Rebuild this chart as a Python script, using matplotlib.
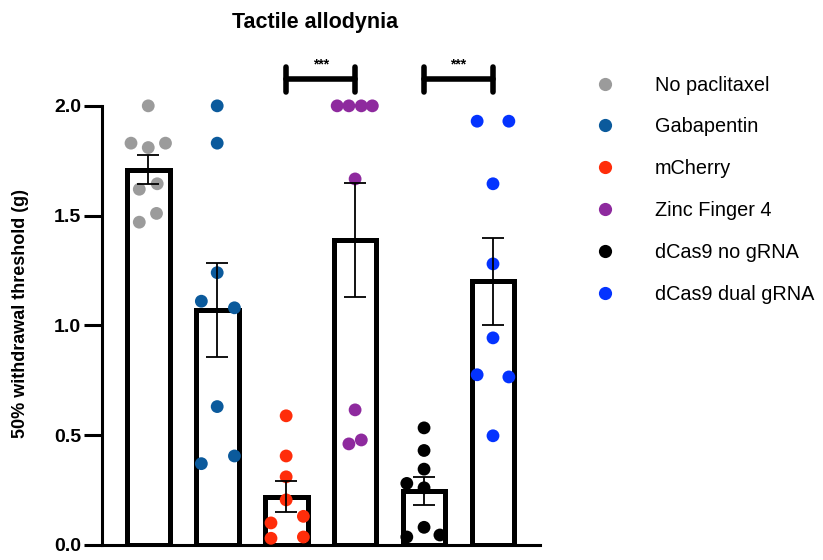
import numpy as np
import matplotlib
matplotlib.use("Agg")
import matplotlib.pyplot as plt
from matplotlib.lines import Line2D

plt.rcParams['font.family'] = ['Liberation Sans', 'DejaVu Sans']

groups = ["No paclitaxel", "Gabapentin", "mCherry", "Zinc Finger 4",
          "dCas9 no gRNA", "dCas9 dual gRNA"]
colors = ["#9b9b9b", "#0b5a9c", "#ff2d0a", "#8e2a9e", "#000000", "#0433ff"]

means = [1.71, 1.07, 0.22, 1.39, 0.245, 1.20]
sems = [0.065, 0.215, 0.07, 0.26, 0.065, 0.20]

no_pac = [2.0, 1.83, 1.81, 1.83, 1.62, 1.645, 1.47, 1.51]
gaba = [2.0, 1.83, 1.24, 1.11, 1.08, 0.63, 0.37, 0.405]
mcherry = [0.588, 0.405, 0.31, 0.205, 0.10, 0.13, 0.03, 0.036]
zf4 = [2.0, 2.0, 2.0, 2.0, 1.667, 0.615, 0.46, 0.478]
no_grna = [0.533, 0.43, 0.345, 0.28, 0.26, 0.08, 0.036, 0.045]
dual_grna = [1.93, 1.93, 1.645, 1.28, 0.943, 0.775, 0.765, 0.497]
points = [no_pac, gaba, mcherry, zf4, no_grna, dual_grna]

# horizontal scatter of the dots inside each bar (layout only)
spread = [
    [0, -0.25, 0, 0.25, -0.13, 0.13, -0.13, 0.12],
    [0, 0, 0, -0.23, 0.25, 0, -0.23, 0.25],
    [0, 0, 0, 0, -0.22, 0.25, -0.22, 0.25],
    [-0.26, -0.09, 0.09, 0.25, 0, 0, -0.09, 0.09],
    [0, 0, 0, -0.25, 0, 0, -0.25, 0.23],
    [-0.23, 0.23, 0, 0, 0, -0.23, 0.23, 0],
]

sig_pairs = [(2, 3), (4, 5)]
sig_text = "***"

fig = plt.figure(figsize=(8.23, 5.6), dpi=100)
ax = fig.add_axes([0.124, 0.027, 0.532, 0.784])

x = np.arange(len(groups))
ax.bar(x, means, width=0.62, color="white", edgecolor="black", linewidth=3.6, zorder=1)
for i, vals in enumerate(points):
    ax.scatter(x[i] + np.array(spread[i]), vals, s=85, color=colors[i],
               edgecolors="none", zorder=3, clip_on=False)
ax.errorbar(x, means, yerr=sems, fmt="none", ecolor="black", elinewidth=1.3,
            capsize=8, capthick=1.3, zorder=4)

# significance brackets
for a, b in sig_pairs:
    y = 2.12
    ax.plot([a, b], [y, y], color="black", lw=4, clip_on=False, solid_capstyle="round")
    for xx in (a, b):
        ax.plot([xx, xx], [y - 0.055, y + 0.055], color="black", lw=4,
                clip_on=False, solid_capstyle="round")
    ax.text((a + b) / 2, y + 0.035, sig_text, ha="center", va="bottom",
            fontsize=10, fontweight="bold")

ax.set_xlim(-0.67, 5.68)
ax.set_ylim(0, 2.0)
ax.set_yticks([0.0, 0.5, 1.0, 1.5, 2.0])
ax.set_yticklabels(["0.0", "0.5", "1.0", "1.5", "2.0"], fontsize=14, fontweight="bold")
ax.set_xticks([])
ax.spines["top"].set_visible(False)
ax.spines["right"].set_visible(False)
ax.spines["left"].set_linewidth(2.2)
ax.spines["bottom"].set_linewidth(2.2)
ax.tick_params(axis="y", length=13, width=2.2, pad=2)
ax.set_ylabel("50% withdrawal threshold (g)", fontsize=13, fontweight="bold")
ax.yaxis.set_label_coords(-0.167, 0.526)
ax.set_title("Tactile allodynia", fontsize=15.5, fontweight="bold", pad=56, x=0.487)

handles = [Line2D([], [], marker="o", linestyle="none", markersize=9.5,
                  markerfacecolor=c, markeredgecolor="none") for c in colors]
fig.legend(handles, groups, loc="upper left", bbox_to_anchor=(0.723, 0.865),
           frameon=False, fontsize=14.3, labelspacing=1.15, handlelength=1,
           handletextpad=2.0, borderpad=0, borderaxespad=0)

fig.savefig("out.png", dpi=100)
